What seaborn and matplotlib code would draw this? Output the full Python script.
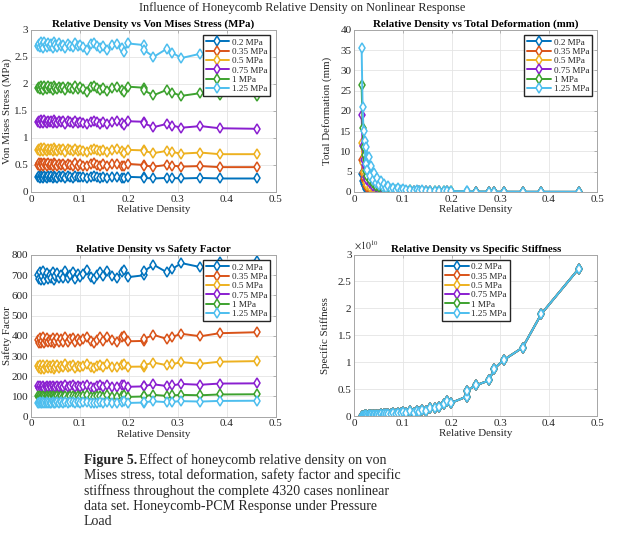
import pandas as pd
import seaborn as sns
import matplotlib.pyplot as plt

# relative density of each case (sorted, as plotted)
rel_density = [0.015, 0.017, 0.019, 0.021, 0.023, 0.025, 0.027, 0.030, 0.032, 0.035,
               0.038, 0.041, 0.044, 0.047, 0.050, 0.054, 0.058, 0.062, 0.066, 0.070,
               0.075, 0.080, 0.085, 0.090, 0.095, 0.100, 0.106, 0.115, 0.122, 0.128,
               0.134, 0.140, 0.148, 0.155, 0.165, 0.175, 0.185, 0.190, 0.198,
               0.231, 0.231, 0.250, 0.277, 0.288, 0.307, 0.346, 0.385, 0.462]

pressures = ["0.2 MPa", "0.35 MPa", "0.5 MPa", "0.75 MPa", "1 MPa", "1.25 MPa"]
colors = ["#0072BD", "#D95319", "#EDB120", "#8A1FD0", "#3DA22F", "#4DBEEE"]

# Von Mises stress (MPa)
vm_02 = [0.27, 0.29, 0.26, 0.30, 0.28, 0.26, 0.30, 0.28, 0.26, 0.29,
         0.27, 0.29, 0.26, 0.30, 0.28, 0.26, 0.29, 0.27, 0.29, 0.26,
         0.29, 0.27, 0.26, 0.29, 0.27, 0.28, 0.27, 0.26, 0.28, 0.29,
         0.27, 0.26, 0.28, 0.26, 0.28, 0.28, 0.26, 0.26, 0.28,
         0.27, 0.26, 0.25, 0.26, 0.26, 0.25, 0.26, 0.25, 0.25]
vm_035 = [0.50, 0.53, 0.49, 0.54, 0.51, 0.48, 0.54, 0.51, 0.49, 0.53,
          0.50, 0.52, 0.49, 0.54, 0.51, 0.49, 0.52, 0.50, 0.52, 0.48,
          0.52, 0.50, 0.49, 0.53, 0.49, 0.51, 0.49, 0.48, 0.51, 0.53,
          0.50, 0.48, 0.51, 0.48, 0.51, 0.52, 0.49, 0.48, 0.52,
          0.50, 0.49, 0.47, 0.50, 0.49, 0.47, 0.48, 0.46, 0.46]
vm_05 = [0.77, 0.80, 0.75, 0.81, 0.78, 0.75, 0.81, 0.78, 0.76, 0.80,
         0.77, 0.79, 0.75, 0.81, 0.78, 0.76, 0.79, 0.77, 0.79, 0.74,
         0.79, 0.77, 0.75, 0.80, 0.76, 0.78, 0.76, 0.74, 0.78, 0.80,
         0.77, 0.75, 0.78, 0.74, 0.78, 0.79, 0.75, 0.73, 0.78,
         0.77, 0.76, 0.72, 0.76, 0.74, 0.71, 0.73, 0.70, 0.70]
vm_075 = [1.29, 1.32, 1.27, 1.33, 1.30, 1.27, 1.33, 1.30, 1.28, 1.32,
          1.29, 1.31, 1.27, 1.33, 1.30, 1.28, 1.31, 1.29, 1.31, 1.26,
          1.31, 1.29, 1.27, 1.32, 1.28, 1.30, 1.28, 1.25, 1.30, 1.32,
          1.29, 1.26, 1.30, 1.26, 1.30, 1.31, 1.27, 1.24, 1.31,
          1.30, 1.27, 1.20, 1.26, 1.23, 1.19, 1.22, 1.18, 1.17]
vm_1 = [1.92, 1.95, 1.90, 1.97, 1.93, 1.89, 1.97, 1.93, 1.90, 1.96,
        1.92, 1.95, 1.89, 1.97, 1.93, 1.90, 1.95, 1.92, 1.94, 1.88,
        1.95, 1.92, 1.90, 1.96, 1.91, 1.94, 1.91, 1.86, 1.94, 1.96,
        1.92, 1.88, 1.93, 1.87, 1.93, 1.95, 1.88, 1.85, 1.95,
        1.93, 1.88, 1.79, 1.89, 1.84, 1.78, 1.83, 1.80, 1.78]
vm_125 = [2.70, 2.74, 2.68, 2.77, 2.71, 2.66, 2.78, 2.72, 2.69, 2.76,
          2.70, 2.74, 2.67, 2.77, 2.72, 2.69, 2.75, 2.70, 2.73, 2.66,
          2.74, 2.71, 2.68, 2.76, 2.70, 2.73, 2.69, 2.62, 2.74, 2.76,
          2.70, 2.66, 2.71, 2.63, 2.72, 2.74, 2.66, 2.60, 2.75,
          2.72, 2.63, 2.50, 2.65, 2.58, 2.48, 2.56, 2.55, 2.52]

# total deformation (mm)
td_02 = [4.5, 2.6, 1.9, 1.6, 0.85, 1.4, 0.67, 1.05, 0.5, 0.8,
         0.38, 0.56, 0.27, 0.42, 0.21, 0.32, 0.16, 0.25, 0.12, 0.19,
         0.10, 0.14, 0.07, 0.11, 0.06, 0.08, 0.05, 0.07, 0.04, 0.06,
         0.04, 0.05, 0.03, 0.04, 0.03, 0.04, 0.02, 0.03, 0.02,
         0.02, 0.017, 0.015, 0.012, 0.011, 0.01, 0.008, 0.007, 0.006]
td_035 = [8.0, 4.7, 3.3, 2.8, 1.5, 2.5, 1.2, 1.9, 0.9, 1.4,
          0.67, 1.0, 0.48, 0.74, 0.38, 0.57, 0.29, 0.44, 0.22, 0.33,
          0.17, 0.25, 0.13, 0.20, 0.11, 0.15, 0.09, 0.13, 0.07, 0.11,
          0.07, 0.09, 0.05, 0.07, 0.05, 0.07, 0.04, 0.05, 0.04,
          0.035, 0.03, 0.027, 0.021, 0.02, 0.018, 0.015, 0.013, 0.011]
td_05 = [12.0, 7.1, 5.0, 4.2, 2.3, 3.7, 1.8, 2.8, 1.3, 2.1,
         1.0, 1.5, 0.72, 1.1, 0.57, 0.85, 0.43, 0.66, 0.33, 0.5,
         0.26, 0.37, 0.20, 0.30, 0.16, 0.23, 0.13, 0.20, 0.11, 0.16,
         0.10, 0.13, 0.08, 0.11, 0.07, 0.10, 0.06, 0.08, 0.06,
         0.05, 0.045, 0.04, 0.032, 0.03, 0.027, 0.023, 0.02, 0.016]
td_075 = [19.0, 11.3, 7.9, 6.6, 3.7, 5.8, 2.9, 4.5, 2.1, 3.4,
          1.6, 2.4, 1.15, 1.8, 0.9, 1.35, 0.68, 1.05, 0.52, 0.8,
          0.42, 0.58, 0.32, 0.47, 0.26, 0.36, 0.21, 0.32, 0.18, 0.26,
          0.16, 0.21, 0.13, 0.18, 0.12, 0.16, 0.09, 0.13, 0.10,
          0.09, 0.07, 0.06, 0.05, 0.047, 0.043, 0.036, 0.032, 0.025]
td_1 = [26.5, 15.7, 11.0, 9.2, 5.1, 8.0, 4.0, 6.3, 2.9, 4.7,
        2.2, 3.3, 1.6, 2.5, 1.2, 1.9, 0.95, 1.45, 0.72, 1.1,
        0.58, 0.8, 0.44, 0.65, 0.36, 0.5, 0.29, 0.44, 0.25, 0.36,
        0.22, 0.29, 0.18, 0.25, 0.16, 0.22, 0.13, 0.18, 0.14,
        0.12, 0.10, 0.09, 0.07, 0.065, 0.06, 0.05, 0.045, 0.035]
td_125 = [35.5, 21.0, 15.0, 12.5, 7.0, 11.0, 5.5, 8.7, 4.0, 6.5,
          3.0, 4.6, 2.2, 3.4, 1.7, 2.6, 1.3, 2.0, 1.0, 1.5,
          0.8, 1.1, 0.6, 0.9, 0.5, 0.7, 0.4, 0.6, 0.35, 0.5,
          0.3, 0.4, 0.25, 0.35, 0.22, 0.3, 0.18, 0.25, 0.2,
          0.16, 0.14, 0.12, 0.10, 0.09, 0.08, 0.07, 0.06, 0.05]

# safety factor
sf_02 = [700, 680, 715, 675, 695, 720, 675, 695, 712, 680,
         700, 685, 718, 676, 695, 712, 685, 702, 688, 722,
         688, 702, 716, 682, 705, 690, 705, 726, 690, 680,
         700, 718, 695, 722, 698, 688, 716, 728, 690,
         700, 720, 752, 715, 730, 760, 740, 765, 772]
sf_035 = [380, 367, 388, 364, 376, 392, 364, 376, 388, 368,
          380, 370, 390, 365, 376, 388, 370, 382, 372, 394,
          372, 382, 390, 368, 384, 374, 384, 396, 374, 366,
          380, 394, 376, 396, 378, 372, 392, 398, 373,
          375, 385, 405, 385, 395, 410, 398, 413, 418]
sf_05 = [250, 240, 256, 238, 248, 258, 238, 248, 255, 242,
         250, 243, 257, 238, 248, 255, 243, 251, 245, 259,
         245, 251, 257, 242, 252, 246, 252, 260, 246, 240,
         250, 258, 248, 260, 248, 245, 257, 262, 247,
         248, 255, 268, 255, 260, 270, 262, 272, 275]
sf_075 = [150, 144, 153, 142, 148, 154, 142, 148, 153, 145,
          150, 146, 154, 143, 148, 153, 146, 151, 147, 156,
          147, 151, 155, 145, 152, 148, 152, 157, 148, 144,
          150, 155, 149, 157, 149, 147, 155, 158, 148,
          150, 152, 160, 152, 155, 162, 158, 164, 165]
sf_1 = [100, 96, 102, 95, 99, 103, 95, 99, 102, 97,
        100, 97, 103, 96, 99, 102, 97, 101, 98, 104,
        98, 101, 103, 97, 101, 99, 101, 105, 99, 96,
        100, 104, 99, 105, 99, 98, 104, 106, 98,
        100, 103, 108, 103, 105, 108, 106, 110, 111]
sf_125 = [70, 67, 72, 66, 69, 73, 66, 69, 72, 67,
          70, 68, 73, 66, 69, 72, 68, 71, 68, 74,
          68, 71, 73, 67, 71, 69, 71, 75, 69, 67,
          70, 74, 70, 75, 70, 69, 73, 76, 68,
          70, 72, 76, 72, 74, 77, 75, 78, 79]

# specific stiffness (in units of 1e10), same for every pressure level
stiff_e10 = [0.005, 0.008, 0.004, 0.010, 0.006, 0.012, 0.008, 0.015, 0.010, 0.018,
             0.013, 0.022, 0.016, 0.026, 0.020, 0.030, 0.024, 0.036, 0.030, 0.043,
             0.035, 0.050, 0.042, 0.060, 0.050, 0.072, 0.055, 0.085, 0.065, 0.100,
             0.080, 0.120, 0.100, 0.140, 0.150, 0.170, 0.220, 0.270, 0.240,
             0.36, 0.47, 0.57, 0.66, 0.88, 1.04, 1.27, 1.90, 2.74]


def long_df(series):
    rows = []
    for label, vals in zip(pressures, series):
        for x, y in zip(rel_density, vals):
            rows.append({"rd": x, "val": y, "p": label})
    return pd.DataFrame(rows)


sns.set_style("white")
plt.rcParams["font.family"] = ["Liberation Serif", "DejaVu Serif"]
plt.rcParams["mathtext.fontset"] = "stix"

fig = plt.figure(figsize=(6.2, 5.33), dpi=100)
ax1 = fig.add_axes([0.050, 0.6398, 0.395, 0.304])
ax2 = fig.add_axes([0.5715, 0.6398, 0.392, 0.304])
ax3 = fig.add_axes([0.050, 0.2182, 0.395, 0.3034])
ax4 = fig.add_axes([0.5715, 0.2195, 0.392, 0.3030])

panels = [
    (ax1, [vm_02, vm_035, vm_05, vm_075, vm_1, vm_125],
     "Relative Density vs Von Mises Stress (MPa)", "Von Mises Stress (MPa)",
     3, 0.5, "upper right", -0.078),
    (ax2, [td_02, td_035, td_05, td_075, td_1, td_125],
     "Relative Density vs Total Deformation (mm)", "Total Deformation (mm)",
     40, 5, "upper right", -0.092),
    (ax3, [sf_02, sf_035, sf_05, sf_075, sf_1, sf_125],
     "Relative Density vs Safety Factor", "Safety Factor",
     800, 100, "upper right", -0.078),
    (ax4, [stiff_e10] * 6,
     "Relative Density vs Specific Stiffness", "Specific Stiffness",
     3, 0.5, "upper center", -0.10),
]

txt = "#262626"
for ax, series, title, ylab, ymax, ystep, loc, ylx in panels:
    df = long_df(series)
    sns.lineplot(data=df, x="rd", y="val", hue="p", hue_order=pressures,
                 palette=colors, sort=False, estimator=None, legend=False, ax=ax,
                 marker="d", markersize=5.5, markerfacecolor="white",
                 markeredgewidth=1.1, linewidth=1.4)
    for ln in ax.lines:
        ln.set_markeredgecolor(ln.get_color())
    ax.set_xlim(0, 0.5)
    ax.set_ylim(0, ymax)
    ax.set_xticks([0, 0.1, 0.2, 0.3, 0.4, 0.5])
    ax.set_xticklabels(["0", "0.1", "0.2", "0.3", "0.4", "0.5"])
    yt = [k * ystep for k in range(int(round(ymax / ystep)) + 1)]
    ax.set_yticks(yt)
    ax.set_yticklabels(["%g" % v for v in yt])
    ax.grid(True, color="#e4e4e4", linewidth=0.6)
    ax.set_axisbelow(True)
    for s in ax.spines.values():
        s.set_color("#a6a6a6")
        s.set_linewidth(0.7)
    ax.tick_params(direction="in", length=2.5, width=0.6, colors="#a6a6a6",
                   labelcolor=txt, labelsize=8, pad=2, top=True, right=True)
    ax.set_title(title, fontsize=7.8, fontweight="bold", pad=2, color="black")
    ax.set_xlabel("Relative Density", fontsize=7.8, color=txt, labelpad=1)
    ax.set_ylabel(ylab, fontsize=7.8, color=txt)
    ax.yaxis.set_label_coords(ylx, 0.5)
    ax.legend(ax.lines[:6], pressures, loc=loc, fontsize=6.6, frameon=True,
              fancybox=False, edgecolor="#262626", framealpha=1,
              borderaxespad=0.6, handlelength=2.6, handletextpad=0.3,
              labelspacing=0.1, borderpad=0.3)

ax4.text(0.0, 1.015, r"$\times10^{10}$", transform=ax4.transAxes, fontsize=7,
         color=txt, ha="left", va="bottom")

fig.text(302 / 620, 1 - 11 / 533, "Influence of Honeycomb Relative Density on Nonlinear Response",
         ha="center", va="baseline", fontsize=8.8, color=txt)

# caption
cap_lines = [
    "Effect of honeycomb relative density on von",
    "Mises stress, total deformation, safety factor and specific",
    "stiffness throughout the complete 4320 cases nonlinear",
    "data set. Honeycomb-PCM Response under Pressure",
    "Load",
]
x0 = 84 / 620
base = 464
fig.canvas.draw()
rend = fig.canvas.get_renderer()
bold = fig.text(x0, 1 - base / 533, "Figure 5.", fontsize=10, fontweight="bold",
                va="baseline", ha="left")
bb = bold.get_window_extent(renderer=rend)
fig.text(bb.x1 / fig.bbox.width + 2 / 620, 1 - base / 533, cap_lines[0],
         fontsize=10, va="baseline", ha="left")
for k, line in enumerate(cap_lines[1:], start=1):
    fig.text(x0, 1 - (base + 15.3 * k) / 533, line, fontsize=10,
             va="baseline", ha="left")

fig.savefig("out.png", dpi=100)
